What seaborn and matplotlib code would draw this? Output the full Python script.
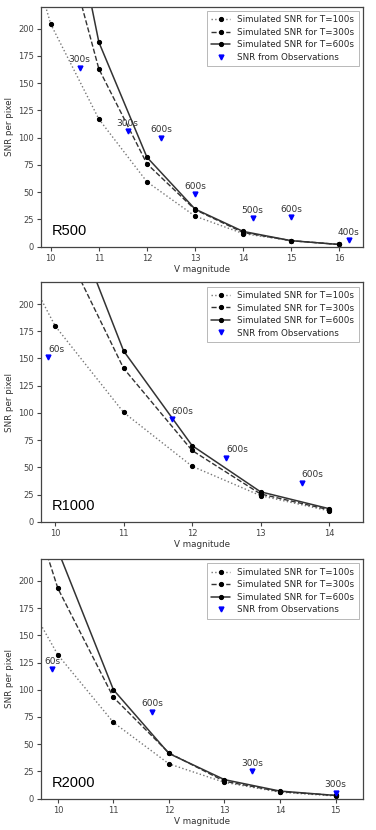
import matplotlib
matplotlib.use("Agg")
import matplotlib.pyplot as plt
import seaborn as sns
import numpy as np

# ---- data ----
mag_r500 = [9, 10, 11, 12, 13, 14, 15, 16]
snr100_r500 = [355, 204, 117, 59.5, 28, 12, 5.5, 2]
snr300_r500 = [None, 326, 163, 76, 34, 13, 5.5, 2]
snr600_r500 = [None, 405, 187.5, 82, 34.5, 14, 5.5, 2]
obs_mag_r500 = [10.6, 11.6, 12.3, 13.0, 14.2, 15.0, 16.2]
obs_snr_r500 = [164, 106, 100, 48, 26, 27, 6]
obs_lab_r500 = ["300s", "300s", "600s", "600s", "500s", "600s", "400s"]

mag_r1000 = [9, 10, 11, 12, 13, 14]
snr100_r1000 = [300, 180, 100.5, 51, 24, 10]
snr300_r1000 = [None, 270, 141, 65.5, 25.5, 11]
snr600_r1000 = [None, 318, 157, 70, 27.5, 12]
obs_mag_r1000 = [9.9, 11.7, 12.5, 13.6]
obs_snr_r1000 = [151, 94, 59, 36]
obs_lab_r1000 = ["60s", "600s", "600s", "600s"]

mag_r2000 = [9, 10, 11, 12, 13, 14, 15]
snr100_r2000 = [222, 132, 70, 32, 15, 6, 2.5]
snr300_r2000 = [352, 193, 93, 42, 16, 6.5, 3]
snr600_r2000 = [None, 228, 100, 41.5, 17.5, 7, 3]
obs_mag_r2000 = [9.9, 11.7, 13.5, 15.0]
obs_snr_r2000 = [119, 80, 25, 5.5]
obs_lab_r2000 = ["60s", "600s", "300s", "300s"]

panels = [
    ("R500", mag_r500, snr100_r500, snr300_r500, snr600_r500,
     obs_mag_r500, obs_snr_r500, obs_lab_r500, (9.79, 16.5), "center"),
    ("R1000", mag_r1000, snr100_r1000, snr300_r1000, snr600_r1000,
     obs_mag_r1000, obs_snr_r1000, obs_lab_r1000, (9.79, 14.5), "left"),
    ("R2000", mag_r2000, snr100_r2000, snr300_r2000, snr600_r2000,
     obs_mag_r2000, obs_snr_r2000, obs_lab_r2000, (9.69, 15.5), "center"),
]

sns.set_theme(style="ticks", rc={"axes.edgecolor": "#444444",
                                 "xtick.color": "#444444",
                                 "ytick.color": "#444444"})
plt.rcParams["font.family"] = ["DejaVu Sans"]

fig = plt.figure(figsize=(3.76, 8.30), dpi=100)
rects = [[0.1082, 0.7028, 0.858, 0.2891],
         [0.1082, 0.3714, 0.858, 0.2885],
         [0.1082, 0.0377, 0.858, 0.2888]]


def clean(m, s):
    pts = [(a, b) for a, b in zip(m, s) if b is not None]
    return [p[0] for p in pts], [p[1] for p in pts]


for rect, (name, mag, s100, s300, s600, omag, osnr, olab, xlim, ha) in zip(rects, panels):
    ax = fig.add_axes(rect)

    x, y = clean(mag, s100)
    sns.lineplot(x=x, y=y, ax=ax, color="#777777", linestyle=":", lw=1,
                 marker="o", markersize=3, markerfacecolor="black",
                 markeredgecolor="black", label="Simulated SNR for T=100s")
    x, y = clean(mag, s300)
    sns.lineplot(x=x, y=y, ax=ax, color="#333333", linestyle="--", lw=1,
                 marker="o", markersize=3, markerfacecolor="black",
                 markeredgecolor="black", label="Simulated SNR for T=300s")
    x, y = clean(mag, s600)
    sns.lineplot(x=x, y=y, ax=ax, color="#333333", linestyle="-", lw=1.1,
                 marker="o", markersize=3, markerfacecolor="black",
                 markeredgecolor="black", label="Simulated SNR for T=600s")
    ax.plot(omag, osnr, linestyle="none", marker="v", color="blue",
            markersize=3.5, label="SNR from Observations")

    for mx, my, lab in zip(omag, osnr, olab):
        ax.annotate(lab, (mx, my), xytext=(0, 2.5), textcoords="offset points",
                    ha=ha, va="bottom", fontsize=6.5, color="#333333")

    ax.set_xlim(*xlim)
    ax.set_ylim(0, 220)
    ax.set_yticks(np.arange(0, 201, 25))
    ax.set_xticks(np.arange(10, int(xlim[1]) + 1, 1))
    ax.tick_params(labelsize=6, length=3, width=0.8, pad=2)
    ax.set_xlabel("V magnitude", fontsize=6.3, color="#333333", labelpad=2)
    ax.set_ylabel("SNR per pixel", fontsize=6.3, color="#333333", labelpad=3)
    for sp in ax.spines.values():
        sp.set_linewidth(0.9)

    leg = ax.legend(loc="upper right", fontsize=6.3, frameon=True, fancybox=False,
                    edgecolor="#999999", handlelength=2.2, borderpad=0.5,
                    labelspacing=0.4)
    leg.get_frame().set_linewidth(0.6)

    ax.text(0.035, 0.05, name, transform=ax.transAxes, fontsize=10.5,
            family=["Liberation Sans", "DejaVu Sans"], color="black",
            ha="left", va="baseline")

fig.savefig("out.png", dpi=100)
